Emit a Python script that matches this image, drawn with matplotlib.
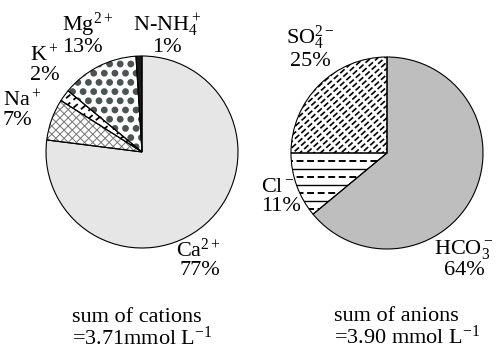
import numpy as np
import matplotlib
matplotlib.use("Agg")
import matplotlib.pyplot as plt
from matplotlib.collections import LineCollection, PatchCollection
from matplotlib.patches import Circle, Wedge

plt.rcParams['font.family'] = ['Liberation Serif', 'DejaVu Serif']
plt.rcParams['mathtext.fontset'] = 'custom'
plt.rcParams['mathtext.rm'] = 'Liberation Serif'
plt.rcParams['mathtext.it'] = 'Liberation Serif:italic'
plt.rcParams['mathtext.bf'] = 'Liberation Serif:bold'
plt.rcParams['lines.scale_dashes'] = False

# ---- data ----
cation_labels = ['N-NH$_4^+$', 'Mg$^{2+}$', 'K$^+$', 'Na$^+$', 'Ca$^{2+}$']
cation_values = [1, 13, 2, 7, 77]
anion_labels = ['SO$_4^{2-}$', 'Cl$^-$', 'HCO$_3^-$']
anion_values = [25, 11, 64]
cation_total = '3.71mmol'
anion_total = '3.90 mmol'

W, H = 496, 356
fig = plt.figure(figsize=(W / 100, H / 100), dpi=100)
ax = fig.add_axes([0, 0, 1, 1])

R = 96
cen_c = (142, H - 152)
cen_a = (387, H - 153)

cation_fill = ['#1a1a1a', 'white', 'white', 'white', '#e6e6e6']
anion_fill = ['white', 'white', '#bebebe']

wc, _ = ax.pie(cation_values, radius=R, center=cen_c, startangle=90, counterclock=True,
               colors=cation_fill, wedgeprops=dict(edgecolor='none', linewidth=0), frame=False)
wa, _ = ax.pie(anion_values, radius=R, center=cen_a, startangle=90, counterclock=True,
               colors=anion_fill, wedgeprops=dict(edgecolor='none', linewidth=0), frame=False)
for w in list(wc) + list(wa):
    w.set_zorder(1)


def clipped_lines(wedge, segs, color, lw, ls):
    lc = LineCollection(segs, colors=color, linewidths=lw, linestyles=ls, zorder=2)
    ax.add_collection(lc)
    lc.set_clip_path(wedge)
    return lc


def diag_segs(center, angle_deg, spacing):
    cx, cy = center
    t = np.deg2rad(angle_deg)
    d = np.array([np.cos(t), np.sin(t)])
    n = np.array([-np.sin(t), np.cos(t)])
    segs = []
    for k in np.arange(-R * 1.5, R * 1.5, spacing):
        p0 = np.array([cx, cy]) + n * k - d * R * 1.6
        p1 = np.array([cx, cy]) + n * k + d * R * 1.6
        segs.append([p0, p1])
    return segs


# Mg: dot texture (hexagonal dot pattern)
mg = wc[1]
cx, cy = cen_c
circles = []
spx, spy = 10.6, 9.2
for j, yy in enumerate(np.arange(cy - R, cy + R, spy)):
    off = (spx / 2) if j % 2 else 0
    for xx in np.arange(cx - R + off, cx + R, spx):
        circles.append(Circle((xx, yy), 3.4))
pc = PatchCollection(circles, facecolor='#4b5353', edgecolor='none', zorder=2)
ax.add_collection(pc)
pc.set_clip_path(mg)

# Na: grey crosshatch
na = wc[3]
clipped_lines(na, diag_segs(cen_c, 45, 5.8), '#707070', 0.7, 'solid')
clipped_lines(na, diag_segs(cen_c, -45, 5.8), '#707070', 0.7, 'solid')

# K: dashed diagonal
k = wc[2]
clipped_lines(k, diag_segs(cen_c, 40, 6.0), 'black', 1.3, (0, (4.0, 3.0)))

# SO4: dashed diagonal
so4 = wa[0]
clipped_lines(so4, diag_segs(cen_a, 42, 4.6), 'black', 1.2, (0, (4.2, 2.0)))

# Cl: alternating dashed / solid horizontal lines
cl = wa[1]
ax_, ay_ = cen_a
dsegs, ssegs = [], []
for i, yy in enumerate(np.arange(ay_ - 8.0, ay_ - R, -8.0)):
    seg = [(ax_ - R - 5, yy), (ax_ + 5, yy)]
    (dsegs if i % 2 == 0 else ssegs).append(seg)
clipped_lines(cl, dsegs, 'black', 1.4, (0, (5.0, 2.6)))
clipped_lines(cl, ssegs, 'black', 1.0, 'solid')

# outlines on top
for w in list(wc) + list(wa):
    ax.add_patch(Wedge(w.center, w.r, w.theta1, w.theta2, facecolor='none',
                       edgecolor='black', linewidth=0.8, zorder=5))

ax.set_xlim(0, W)
ax.set_ylim(0, H)
ax.set_aspect('equal')
ax.axis('off')

fs = 16
def lab(x, y, s, ha='center', ma='left'):
    ax.text(x, H - y, s, ha=ha, va='center', fontsize=fs, linespacing=0.95,
            multialignment=ma)

pct_c = [f'{v}%' for v in cation_values]
pct_a = [f'{v}%' for v in anion_values]

lab(167, 34, f'{cation_labels[0]}\n{pct_c[0]}', ma='center')
lab(88, 34, f'{cation_labels[1]}\n{pct_c[1]}')
lab(45, 65, f'{cation_labels[2]}\n{pct_c[2]}')
lab(22, 110, f'{cation_labels[3]}\n{pct_c[3]}')
lab(198, 259, f'{cation_labels[4]}\n{pct_c[4]}', ma='right')

lab(310, 47, f'{anion_labels[0]}\n{pct_a[0]}', ma='center')
lab(281, 197, f'{anion_labels[1]}\n{pct_a[1]}')
lab(464, 259, f'{anion_labels[2]}\n{pct_a[2]}', ma='center')

lab(142, 329, f'sum of cations\n={cation_total} L$^{{-1}}$')
lab(407, 328, f'sum of anions\n={anion_total} L$^{{-1}}$')

fig.savefig('out.png', dpi=100)
